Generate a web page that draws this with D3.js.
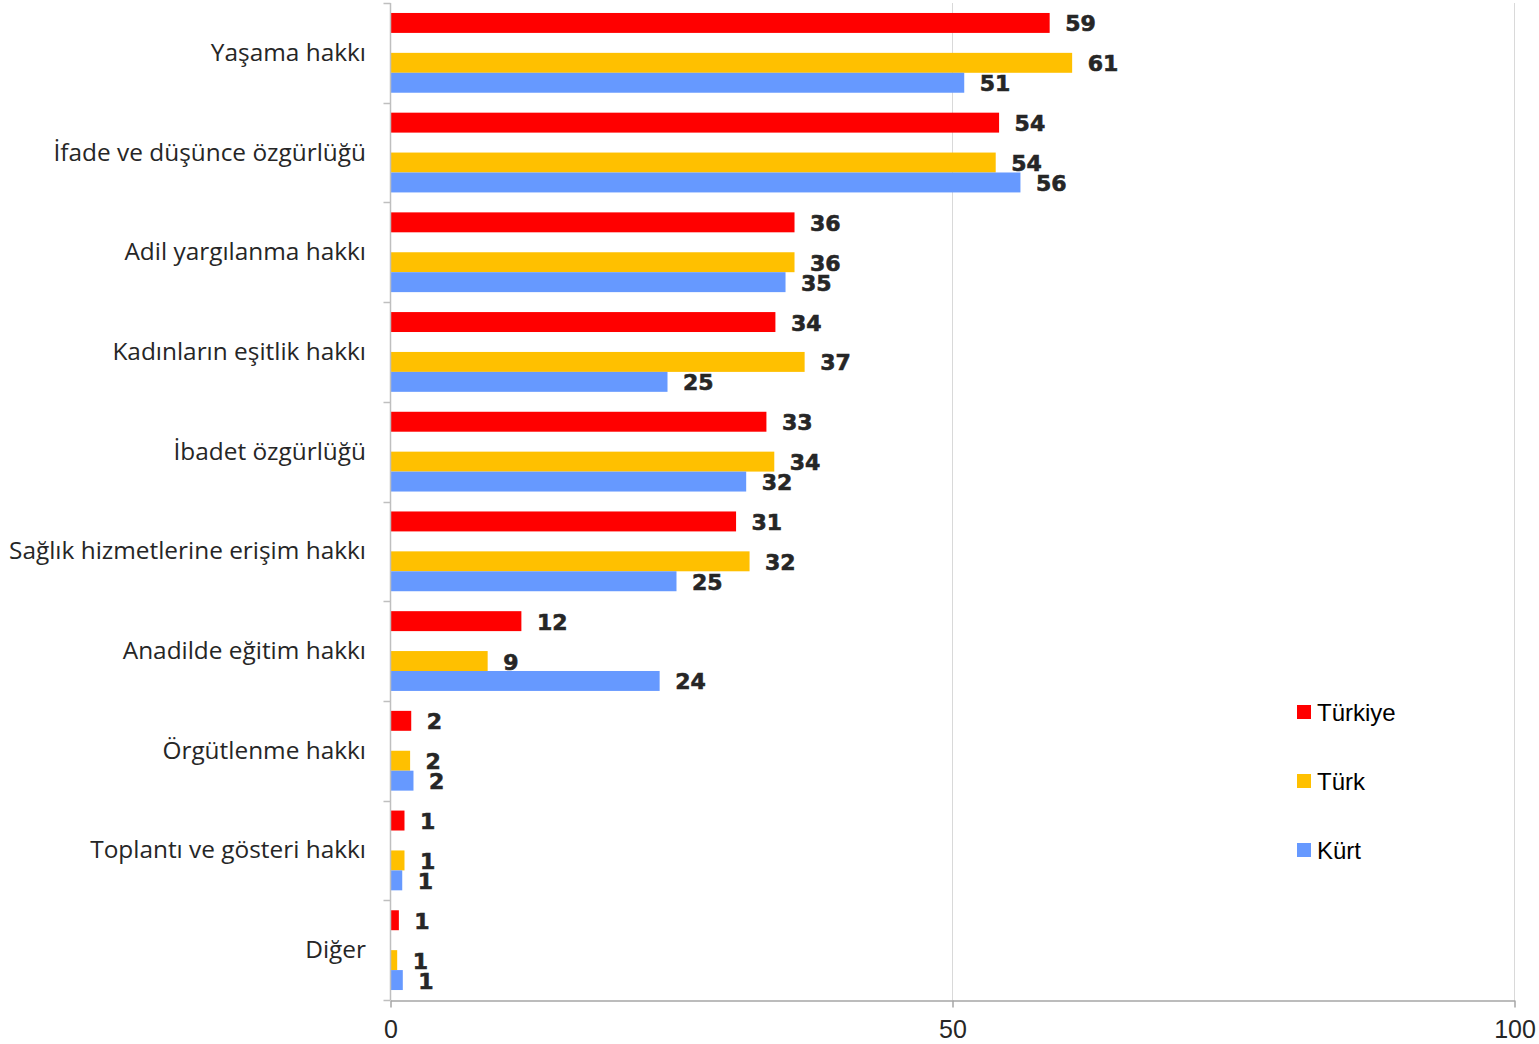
<!DOCTYPE html>
<html>
<head>
<meta charset="utf-8">
<script src="https://cdn.jsdelivr.net/npm/d3@7"></script>
<style>
  html, body { margin: 0; padding: 0; background: #fff; }
  svg { display: block; }
</style>
</head>
<body>
<svg id="chart" width="1539" height="1044"></svg>
<script>
const categories = [
  "Yaşama hakkı",
  "İfade ve düşünce özgürlüğü",
  "Adil yargılanma hakkı",
  "Kadınların eşitlik hakkı",
  "İbadet özgürlüğü",
  "Sağlık hizmetlerine erişim hakkı",
  "Anadilde eğitim hakkı",
  "Örgütlenme hakkı",
  "Toplantı ve gösteri hakkı",
  "Diğer"
];
const seriesNames = ["Türkiye", "Türk", "Kürt"];
const turkiyeValues = [58.6, 54.1, 35.9, 34.2, 33.4, 30.7, 11.6, 1.8, 1.2, 0.7];
const turkValues    = [60.6, 53.8, 35.9, 36.8, 34.1, 31.9, 8.6, 1.7, 1.2, 0.55];
const kurtValues    = [51.0, 56.0, 35.1, 24.6, 31.6, 25.4, 23.9, 2.0, 1.0, 1.05];
const turkiyeLabels = [59, 54, 36, 34, 33, 31, 12, 2, 1, 1];
const turkLabels    = [61, 54, 36, 37, 34, 32, 9, 2, 1, 1];
const kurtLabels    = [51, 56, 35, 25, 32, 25, 24, 2, 1, 1];
const xTicks = [0, 50, 100];
const colors = ["#FF0000", "#FFC000", "#6699FF"];

const svg = d3.select("#chart");
const x = d3.scaleLinear().domain([0, 100]).range([390.5, 1514.5]);
const y = d3.scaleBand().domain(categories).range([3, 1000]).padding(0);
// slots within a category: Türkiye, (empty), Türk, Kürt
const slots = ["Türkiye", "_gap", "Türk", "Kürt"];
const ySlot = d3.scaleBand().domain(slots).range([0, y.bandwidth()]).paddingInner(0).paddingOuter(0.5);

const seriesVals = [turkiyeValues, turkValues, kurtValues];
const seriesLabs = [turkiyeLabels, turkLabels, kurtLabels];

// gridlines
svg.append("g").selectAll("line").data(xTicks.filter(t => t > 0)).join("line")
  .attr("x1", d => x(d)).attr("x2", d => x(d))
  .attr("y1", 3).attr("y2", 1000)
  .attr("stroke", "#d9d9d9").attr("stroke-width", 1);

// bars
const rows = [];
categories.forEach((c, i) => {
  seriesNames.forEach((s, j) => {
    rows.push({cat: c, series: s, value: seriesVals[j][i], label: seriesLabs[j][i], color: colors[j]});
  });
});

svg.append("g").selectAll("rect").data(rows).join("rect")
  .attr("x", x(0) + 0.5)
  .attr("y", d => y(d.cat) + ySlot(d.series))
  .attr("width", d => x(d.value) - x(0))
  .attr("height", ySlot.bandwidth())
  .attr("fill", d => d.color);

// value labels
svg.append("g").selectAll("text").data(rows).join("text")
  .attr("x", d => x(d.value) + 16)
  .attr("y", d => y(d.cat) + ySlot(d.series) + ySlot.bandwidth() / 2 + 1)
  .attr("dominant-baseline", "central")
  .attr("font-family", "DejaVu Sans, sans-serif")
  .attr("font-weight", "bold")
  .attr("font-size", 22)
  .attr("fill", "#262626")
  .attr("stroke", "#262626")
  .attr("stroke-width", 0.6)
  .text(d => d.label);

// left axis line + boundary ticks
const boundaries = categories.map(c => y(c)).concat([y.range()[1]]);
const leftAxis = svg.append("g");
leftAxis.append("line")
  .attr("x1", x(0)).attr("x2", x(0)).attr("y1", 3).attr("y2", 1000)
  .attr("stroke", "#bfbfbf").attr("stroke-width", 1.5);
leftAxis.selectAll("line.tk").data(boundaries).join("line").attr("class", "tk")
  .attr("x1", x(0) - 7).attr("x2", x(0))
  .attr("y1", d => Math.round(d) + 0.5).attr("y2", d => Math.round(d) + 0.5)
  .attr("stroke", "#bfbfbf").attr("stroke-width", 1.5);

// category labels
svg.append("g").selectAll("text").data(categories).join("text")
  .attr("x", 366)
  .attr("y", d => y(d) + y.bandwidth() / 2 - 1.5)
  .attr("text-anchor", "end")
  .attr("dominant-baseline", "central")
  .attr("font-family", "Open Sans, sans-serif")
  .attr("font-size", 24.4)
  .attr("fill", "#262626")
  .text(d => d);

// bottom axis
const bottom = svg.append("g").attr("transform", "translate(0,1000.5)")
  .call(d3.axisBottom(x).tickValues(xTicks).tickSize(7).tickSizeOuter(0).tickFormat(d3.format("d")));
bottom.select(".domain").attr("stroke", "#a6a6a6").attr("stroke-width", 1.5);
bottom.selectAll(".tick line").attr("stroke", "#a6a6a6").attr("stroke-width", 1.5);
bottom.selectAll(".tick text")
  .attr("font-family", "Liberation Sans, Arial, sans-serif")
  .attr("font-size", 25)
  .attr("fill", "#262626")
  .attr("y", 20)
  .attr("dy", "0.71em");

// legend
const legend = svg.append("g").selectAll("g").data(seriesNames).join("g")
  .attr("transform", (d, i) => `translate(1297, ${712 + i * 69})`);
legend.append("rect").attr("x", 0).attr("y", -7).attr("width", 14).attr("height", 14)
  .attr("fill", (d, i) => colors[i]);
legend.append("text").attr("x", 20).attr("y", 0)
  .attr("dominant-baseline", "central")
  .attr("font-family", "Liberation Sans, Arial, sans-serif")
  .attr("font-size", 24)
  .attr("fill", "#000")
  .text(d => d);
</script>
</body>
</html>
